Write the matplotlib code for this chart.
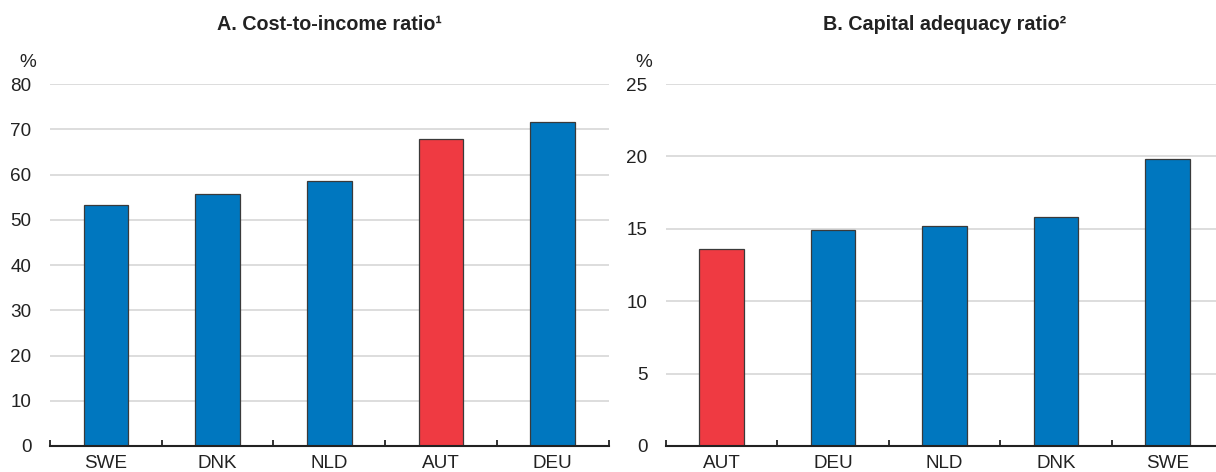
import matplotlib
matplotlib.use("Agg")
import matplotlib.pyplot as plt
from matplotlib.ticker import FixedLocator

plt.rcParams['font.family'] = ['Liberation Sans Narrow', 'Liberation Sans', 'DejaVu Sans']

# Panel A: cost-to-income ratio
cats_a = ["SWE", "DNK", "NLD", "AUT", "DEU"]
vals_a = [53.3, 55.8, 58.6, 67.9, 71.5]
hl_a = "AUT"
yticks_a = [0, 10, 20, 30, 40, 50, 60, 70, 80]

# Panel B: capital adequacy ratio
cats_b = ["AUT", "DEU", "NLD", "DNK", "SWE"]
vals_b = [13.6, 14.9, 15.2, 15.8, 19.8]
hl_b = "AUT"
yticks_b = [0, 5, 10, 15, 20, 25]

titles = ["A. Cost-to-income ratio\u00b9", "B. Capital adequacy ratio\u00b2"]

BLUE = "#0077bf"
RED = "#ef3a42"
TXT = "#222222"
W, H = 1216, 472

fig = plt.figure(figsize=(W / 100, H / 100), dpi=100)

y0, y1 = 446, 84
axA = fig.add_axes([50 / W, (H - y0) / H, (608.5 - 50) / W, (y0 - y1) / H])
axB = fig.add_axes([666 / W, (H - y0) / H, (1223 - 666) / W, (y0 - y1) / H])


def draw(ax, cats, vals, hl, yticks, title):
    colors = [RED if c == hl else BLUE for c in cats]
    x = list(range(len(cats)))
    ax.bar(x, vals, width=0.4, color=colors, edgecolor="#3a3a3a", linewidth=0.9, zorder=3)
    ax.set_xlim(-0.5, len(cats) - 0.5)
    ax.set_ylim(yticks[0], yticks[-1])
    ax.set_yticks(yticks)
    ax.set_xticks(x)
    ax.set_xticklabels(cats)
    ax.xaxis.set_minor_locator(FixedLocator([i - 0.5 for i in range(len(cats) + 1)]))
    ax.tick_params(axis="x", which="major", length=0, pad=6.5, labelsize=13.6, labelcolor=TXT)
    ax.tick_params(axis="x", which="minor", direction="in", length=4.5, width=1.3, color="#222222")
    ax.tick_params(axis="y", length=0, pad=13.5, labelsize=13.6, labelcolor=TXT)
    ax.yaxis.grid(True, color="#d3d3d3", linewidth=1.1, zorder=0)
    ax.set_axisbelow(True)
    for s in ["left", "right", "top"]:
        ax.spines[s].set_visible(False)
    ax.spines["bottom"].set_linewidth(1.5)
    ax.spines["bottom"].set_color("#222222")
    ax.spines["bottom"].set_zorder(4)
    ax.annotate("%", xy=(0, 1), xycoords="axes fraction", xytext=(-22, 22),
                textcoords="offset pixels", ha="center", va="center",
                fontsize=13.6, color=TXT)
    ax.annotate(title, xy=(0.5, 1), xycoords="axes fraction", xytext=(0, 60),
                textcoords="offset pixels", ha="center", va="center",
                fontsize=14.2, fontweight="bold", color=TXT)


draw(axA, cats_a, vals_a, hl_a, yticks_a, titles[0])
draw(axB, cats_b, vals_b, hl_b, yticks_b, titles[1])

fig.savefig("out.png", dpi=100)
